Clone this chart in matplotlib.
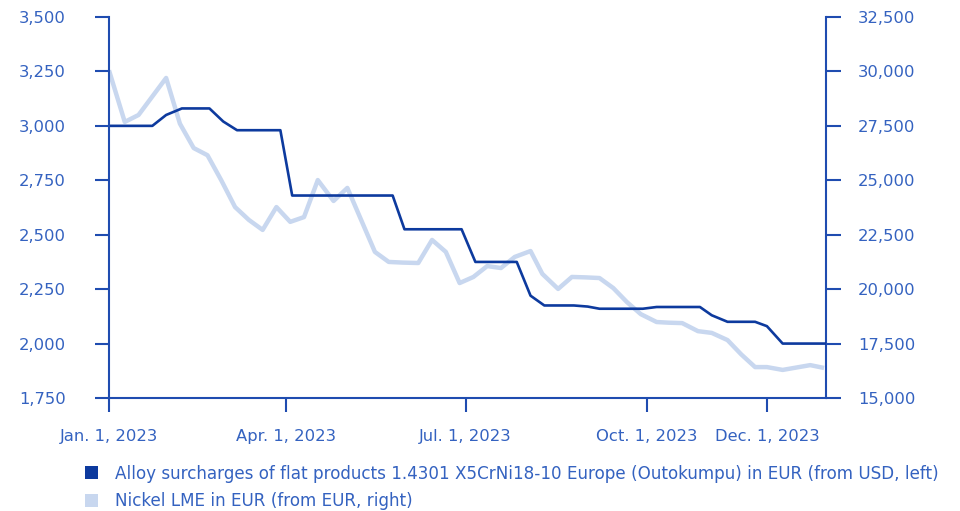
import matplotlib
matplotlib.use("Agg")
import matplotlib.pyplot as plt
from matplotlib.patches import Patch
from matplotlib.ticker import FuncFormatter, MultipleLocator
import pandas as pd

# ---- data ----
alloy_dates = ["2023-01-01", "2023-01-23", "2023-01-30", "2023-02-07", "2023-02-21",
               "2023-02-28", "2023-03-07", "2023-03-29", "2023-04-04", "2023-05-25",
               "2023-05-31", "2023-06-29", "2023-07-06", "2023-07-27", "2023-08-03",
               "2023-08-10", "2023-08-25", "2023-09-01", "2023-09-07", "2023-09-29",
               "2023-10-06", "2023-10-28", "2023-11-03", "2023-11-11", "2023-11-25",
               "2023-12-01", "2023-12-09", "2023-12-31"]
alloy_values = [3000, 3000, 3050, 3080, 3080, 3020, 2980, 2980, 2680, 2680,
                2525, 2525, 2375, 2375, 2220, 2175, 2175, 2170, 2160, 2160,
                2168, 2168, 2130, 2100, 2100, 2080, 2000, 2000]

nickel_dates = ["2023-01-01", "2023-01-09", "2023-01-16", "2023-01-23", "2023-01-30",
                "2023-02-06", "2023-02-13", "2023-02-20", "2023-02-27", "2023-03-06",
                "2023-03-13", "2023-03-20", "2023-03-27", "2023-04-03", "2023-04-10",
                "2023-04-17", "2023-04-25", "2023-05-02", "2023-05-09", "2023-05-16",
                "2023-05-23", "2023-05-30", "2023-06-07", "2023-06-14", "2023-06-21",
                "2023-06-28", "2023-07-05", "2023-07-12", "2023-07-19", "2023-07-26",
                "2023-08-03", "2023-08-09", "2023-08-17", "2023-08-24", "2023-08-31",
                "2023-09-07", "2023-09-14", "2023-09-21", "2023-09-28", "2023-10-06",
                "2023-10-12", "2023-10-19", "2023-10-27", "2023-11-03", "2023-11-11",
                "2023-11-18", "2023-11-25", "2023-12-01", "2023-12-09", "2023-12-16",
                "2023-12-23", "2023-12-30"]
nickel_values = [30050, 27680, 28000, 28850, 29700,
                 27600, 26480, 26150, 25000, 23770,
                 23180, 22720, 23770, 23090, 23310,
                 25010, 24050, 24650, 23180, 21710,
                 21250, 21220, 21200, 22260, 21710,
                 20280, 20560, 21060, 20970, 21480,
                 21750, 20700, 20010, 20560, 20540,
                 20510, 20050, 19400, 18850, 18490,
                 18460, 18440, 18070, 17990, 17660,
                 17000, 16420, 16420, 16290, 16400,
                 16510, 16380]

x_tick_dates = ["2023-01-01", "2023-04-01", "2023-07-01", "2023-10-01", "2023-12-01"]
x_tick_labels = ["Jan. 1, 2023", "Apr. 1, 2023", "Jul. 1, 2023", "Oct. 1, 2023", "Dec. 1, 2023"]

legend_labels = ["Alloy surcharges of flat products 1.4301 X5CrNi18-10 Europe (Outokumpu) in EUR (from USD, left)",
                 "Nickel LME in EUR (from EUR, right)"]

# ---- style ----
DARK = "#0d3a9e"
LIGHT = "#c8d7ef"
AXIS = "#1f4cb0"
TEXT = "#3462c0"
FS = 11.8
plt.rcParams['font.family'] = ['DejaVu Sans']

fig = plt.figure(figsize=(9.6, 5.11), dpi=100)
ax = fig.add_axes([109/960, 1-398/511, (826-109)/960, (398-17)/511])
ax2 = ax.twinx()

ax2.plot(pd.to_datetime(nickel_dates), nickel_values, color=LIGHT, lw=3.2,
         solid_joinstyle='round', solid_capstyle='butt')
ax.plot(pd.to_datetime(alloy_dates), alloy_values, color=DARK, lw=1.9,
        solid_joinstyle='round', solid_capstyle='butt')
ax.set_zorder(ax2.get_zorder() + 1)
ax.patch.set_visible(False)

ax.set_xlim(pd.Timestamp("2023-01-01"), pd.Timestamp("2023-12-31"))
ax.set_ylim(1750, 3500)
ax2.set_ylim(15000, 32500)
ax.yaxis.set_major_locator(MultipleLocator(250))
ax2.yaxis.set_major_locator(MultipleLocator(2500))
fmt = FuncFormatter(lambda v, p: f"{v:,.0f}")
ax.yaxis.set_major_formatter(fmt)
ax2.yaxis.set_major_formatter(fmt)
ax.set_xticks(pd.to_datetime(x_tick_dates))
ax.set_xticklabels(x_tick_labels)

for a in (ax, ax2):
    for s in a.spines.values():
        s.set_visible(False)
ax.spines['left'].set_visible(True)
ax.spines['left'].set_color(AXIS)
ax.spines['left'].set_linewidth(1.5)
ax2.spines['right'].set_visible(True)
ax2.spines['right'].set_color(AXIS)
ax2.spines['right'].set_linewidth(1.5)

ax.tick_params(axis='y', colors=AXIS, labelcolor=TEXT, length=10, width=1.5,
               pad=21, labelsize=FS)
ax2.tick_params(axis='y', colors=AXIS, labelcolor=TEXT, length=11, width=1.5,
                pad=12, labelsize=FS)
ax.tick_params(axis='x', colors=AXIS, labelcolor=TEXT, length=10, width=1.5,
               pad=12, labelsize=FS)
ax.axhline(1750, color=AXIS, lw=1.5, clip_on=False, zorder=5)

handles = [Patch(facecolor=DARK, edgecolor='none'), Patch(facecolor=LIGHT, edgecolor='none')]
leg = fig.legend(handles, legend_labels, loc='upper left', bbox_to_anchor=(73/960, 1-453/511),
                 frameon=False, handlelength=0.8, handleheight=0.8, handletextpad=1.0,
                 labelspacing=0.55, fontsize=12.1, borderpad=0.2)
for t in leg.get_texts():
    t.set_color(TEXT)

fig.savefig("out.png", dpi=100)
